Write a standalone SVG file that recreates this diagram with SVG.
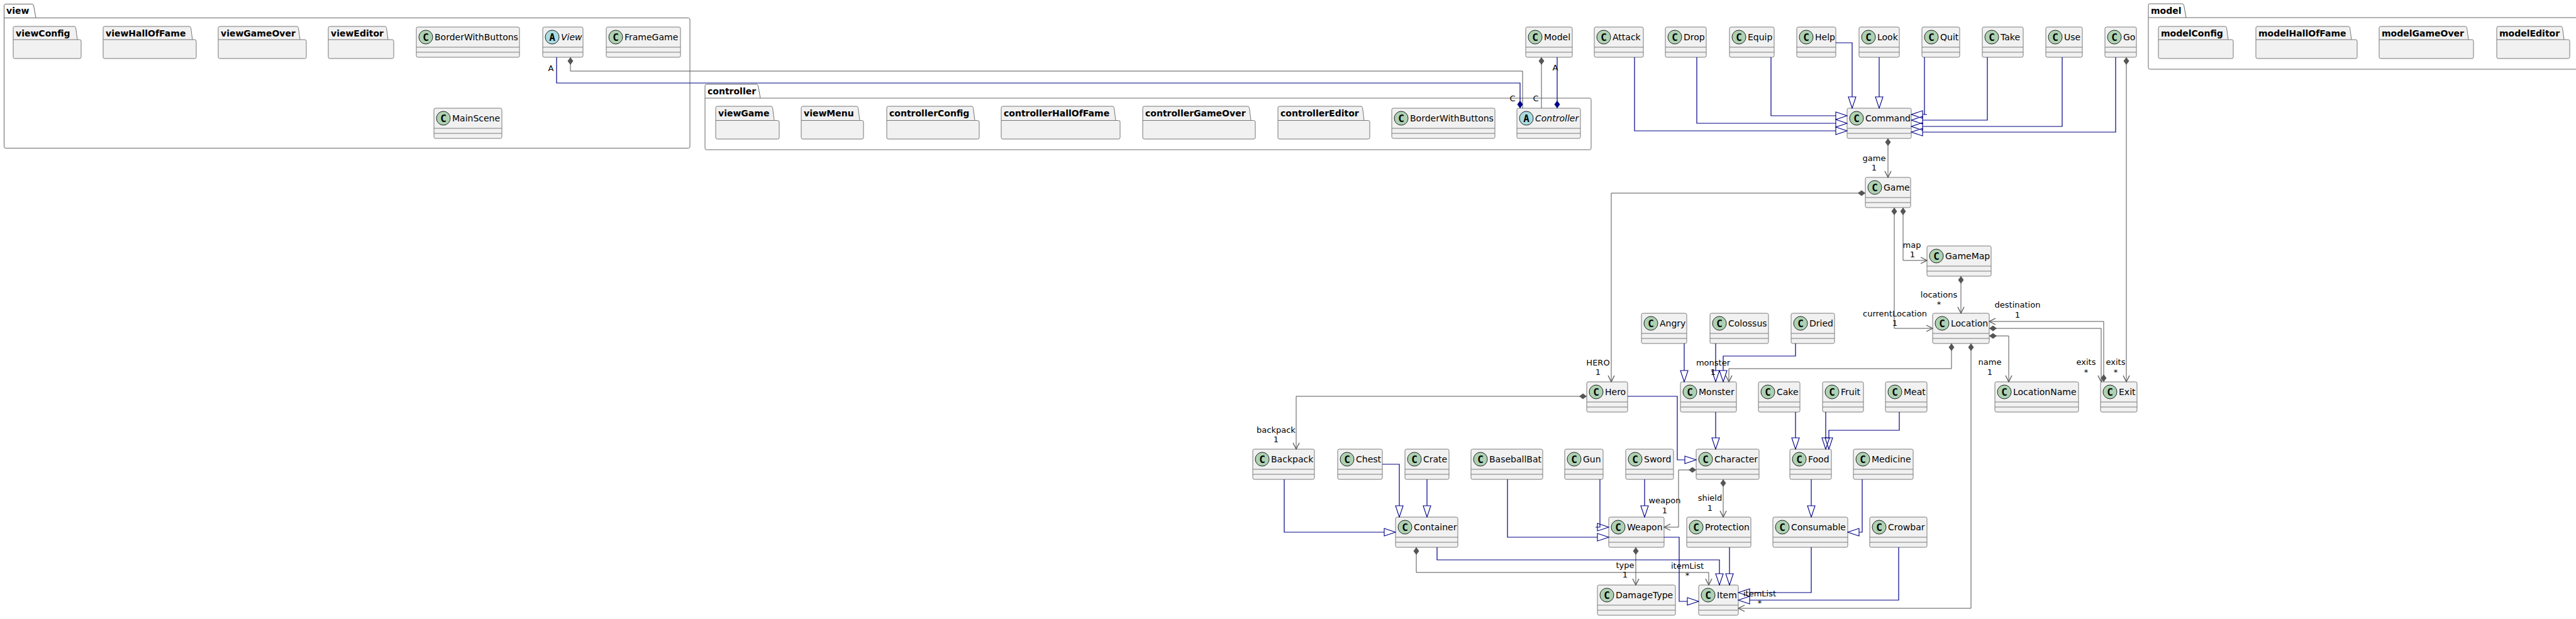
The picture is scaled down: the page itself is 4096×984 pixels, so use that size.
<svg xmlns="http://www.w3.org/2000/svg" width="4096" height="984" viewBox="0 0 4096 984">
<style>
.cls rect{fill:#F1F1F1;stroke:#7a7a7a;stroke-width:1}
.cls .sp{stroke:#7a7a7a;stroke-width:1;fill:none}
.cc{fill:#ADD1B2;stroke:#222;stroke-width:1}
.ca{fill:#A9DCDF;stroke:#222;stroke-width:1}
.lt{font-family:"DejaVu Sans Mono",monospace;font-weight:bold;font-size:16px;text-anchor:middle;fill:#000}
.nm{font-family:"DejaVu Sans",sans-serif;font-size:14px;fill:#000}
.it{font-style:italic}
.opk{fill:none;stroke:#666;stroke-width:1}
.ipk{fill:#F1F1F1;stroke:#777;stroke-width:1}
.pt{font-family:"DejaVu Sans",sans-serif;font-weight:bold;font-size:14px;fill:#000}
.g{fill:none;stroke:#555;stroke-width:1}
.b{fill:none;stroke:#000088;stroke-width:1.2}
.lb{font-family:"DejaVu Sans",sans-serif;font-size:13px;text-anchor:middle;fill:#000}
</style>
<defs>
<marker id="arr" markerUnits="userSpaceOnUse" markerWidth="12" markerHeight="12" viewBox="0 0 12 12" refX="11" refY="6" orient="auto"><path d="M1,1 L11,6 L1,11" fill="none" stroke="#555" stroke-width="1.3"/></marker>
<marker id="dia" markerUnits="userSpaceOnUse" markerWidth="14" markerHeight="10" viewBox="0 0 14 10" refX="0" refY="5" orient="auto"><path d="M0,5 L6,0.5 L12,5 L6,9.5 Z" fill="#555"/></marker>
<marker id="diaB" markerUnits="userSpaceOnUse" markerWidth="14" markerHeight="10" viewBox="0 0 14 10" refX="0" refY="5" orient="auto"><path d="M0,5 L6,0.5 L12,5 L6,9.5 Z" fill="#000088"/></marker>
<marker id="tri" markerUnits="userSpaceOnUse" markerWidth="20" markerHeight="14" viewBox="0 0 20 14" refX="1" refY="7" orient="auto"><path d="M1,1 L19,7 L1,13 Z" fill="none" stroke="#000088" stroke-width="1.1"/></marker>
</defs>
<rect width="4096" height="984" fill="#fff"/>

<g id="pkg-view">
<path class="opk" d="M6.5,28.5 V9 Q6.5,6.5 9,6.5 H51 Q53,6.5 53.5,9 L57,28.5 H1094.5 Q1097,28.5 1097,31 V233 Q1097,235.5 1094.5,235.5 H9 Q6.5,235.5 6.5,233 Z M6.5,28.5 H57"/>
<text class="pt" x="10" y="22">view</text>
<g id="pkg-viewConfig"><path class="ipk" d="M21,63 V44.5 Q21,42 23.5,42 H118 Q120,42 120.5,44.5 L123,63 H126.5 Q129,63 129,65.5 V90.5 Q129,93 126.5,93 H23.5 Q21,93 21,90.5 Z M21,63 H123"/><text class="pt" x="25" y="57.5">viewConfig</text></g>
<g id="pkg-viewHallOfFame"><path class="ipk" d="M164,63 V44.5 Q164,42 166.5,42 H301 Q303,42 303.5,44.5 L306,63 H309.5 Q312,63 312,65.5 V90.5 Q312,93 309.5,93 H166.5 Q164,93 164,90.5 Z M164,63 H306"/><text class="pt" x="168" y="57.5">viewHallOfFame</text></g>
<g id="pkg-viewGameOver"><path class="ipk" d="M347,63 V44.5 Q347,42 349.5,42 H472 Q474,42 474.5,44.5 L477,63 H484.5 Q487,63 487,65.5 V90.5 Q487,93 484.5,93 H349.5 Q347,93 347,90.5 Z M347,63 H477"/><text class="pt" x="351" y="57.5">viewGameOver</text></g>
<g id="pkg-viewEditor"><path class="ipk" d="M522,63 V44.5 Q522,42 524.5,42 H612 Q614,42 614.5,44.5 L617,63 H623.5 Q626,63 626,65.5 V90.5 Q626,93 623.5,93 H524.5 Q522,93 522,90.5 Z M522,63 H617"/><text class="pt" x="526" y="57.5">viewEditor</text></g>
<g id="cls-view-BorderWithButtons" class="cls" transform="translate(662,43)"><rect width="164" height="48" rx="2.5"/><circle class="cc" cx="15" cy="16" r="11"/><text class="lt" x="15" y="21.8">C</text><text class="nm" x="29" y="21.3">BorderWithButtons</text><path class="sp" d="M0,32H164M0,40H164"/></g>
<g id="cls-View" class="cls" transform="translate(863,43)"><rect width="64" height="48" rx="2.5"/><circle class="ca" cx="15" cy="16" r="11"/><text class="lt" x="15" y="21.8">A</text><text class="nm it" x="29" y="21.3">View</text><path class="sp" d="M0,32H64M0,40H64"/></g>
<g id="cls-FrameGame" class="cls" transform="translate(964,43)"><rect width="118" height="48" rx="2.5"/><circle class="cc" cx="15" cy="16" r="11"/><text class="lt" x="15" y="21.8">C</text><text class="nm" x="29" y="21.3">FrameGame</text><path class="sp" d="M0,32H118M0,40H118"/></g>
<g id="cls-MainScene" class="cls" transform="translate(690,172)"><rect width="108" height="48" rx="2.5"/><circle class="cc" cx="15" cy="16" r="11"/><text class="lt" x="15" y="21.8">C</text><text class="nm" x="29" y="21.3">MainScene</text><path class="sp" d="M0,32H108M0,40H108"/></g>
</g>

<g id="pkg-controller">
<path class="opk" d="M1121,156 V136.5 Q1121,134 1123.5,134 H1203 Q1205,134 1205.5,136.5 L1209,156 H2527.5 Q2530,156 2530,158.5 V235.5 Q2530,238 2527.5,238 H1123.5 Q1121,238 1121,235.5 Z M1121,156 H1209"/>
<text class="pt" x="1125" y="149.5">controller</text>
<g id="pkg-viewGame"><path class="ipk" d="M1138,191.5 V171.5 Q1138,169 1140.5,169 H1226 Q1228,169 1228.5,171.5 L1231,191.5 H1236.5 Q1239,191.5 1239,194 V218.5 Q1239,221 1236.5,221 H1140.5 Q1138,221 1138,218.5 Z M1138,191.5 H1231"/><text class="pt" x="1142" y="184.5">viewGame</text></g>
<g id="pkg-viewMenu"><path class="ipk" d="M1274,191.5 V171.5 Q1274,169 1276.5,169 H1362 Q1364,169 1364.5,171.5 L1367,191.5 H1370.5 Q1373,191.5 1373,194 V218.5 Q1373,221 1370.5,221 H1276.5 Q1274,221 1274,218.5 Z M1274,191.5 H1367"/><text class="pt" x="1278" y="184.5">viewMenu</text></g>
<g id="pkg-controllerConfig"><path class="ipk" d="M1410,191.5 V171.5 Q1410,169 1412.5,169 H1545 Q1547,169 1547.5,171.5 L1550,191.5 H1554.5 Q1557,191.5 1557,194 V218.5 Q1557,221 1554.5,221 H1412.5 Q1410,221 1410,218.5 Z M1410,191.5 H1550"/><text class="pt" x="1414" y="184.5">controllerConfig</text></g>
<g id="pkg-controllerHallOfFame"><path class="ipk" d="M1592,191.5 V171.5 Q1592,169 1594.5,169 H1769 Q1771,169 1771.5,171.5 L1774,191.5 H1778.5 Q1781,191.5 1781,194 V218.5 Q1781,221 1778.5,221 H1594.5 Q1592,221 1592,218.5 Z M1592,191.5 H1774"/><text class="pt" x="1596" y="184.5">controllerHallOfFame</text></g>
<g id="pkg-controllerGameOver"><path class="ipk" d="M1817,191.5 V171.5 Q1817,169 1819.5,169 H1984 Q1986,169 1986.5,171.5 L1989,191.5 H1993.5 Q1996,191.5 1996,194 V218.5 Q1996,221 1993.5,221 H1819.5 Q1817,221 1817,218.5 Z M1817,191.5 H1989"/><text class="pt" x="1821" y="184.5">controllerGameOver</text></g>
<g id="pkg-controllerEditor"><path class="ipk" d="M2032,191.5 V171.5 Q2032,169 2034.5,169 H2164 Q2166,169 2166.5,171.5 L2169,191.5 H2175.5 Q2178,191.5 2178,194 V218.5 Q2178,221 2175.5,221 H2034.5 Q2032,221 2032,218.5 Z M2032,191.5 H2169"/><text class="pt" x="2036" y="184.5">controllerEditor</text></g>
<g id="cls-controller-BorderWithButtons" class="cls" transform="translate(2213,172)"><rect width="164" height="48" rx="2.5"/><circle class="cc" cx="15" cy="16" r="11"/><text class="lt" x="15" y="21.8">C</text><text class="nm" x="29" y="21.3">BorderWithButtons</text><path class="sp" d="M0,32H164M0,40H164"/></g>
<g id="cls-Controller" class="cls" transform="translate(2412,172)"><rect width="101" height="48" rx="2.5"/><circle class="ca" cx="15" cy="16" r="11"/><text class="lt" x="15" y="21.8">A</text><text class="nm it" x="29" y="21.3">Controller</text><path class="sp" d="M0,32H101M0,40H101"/></g>
</g>

<g id="pkg-model">
<path class="opk" d="M3416,28 V8.5 Q3416,6 3418.5,6 H3470 Q3472,6 3472.5,8.5 L3476,28 H4110 V110 H3418.5 Q3416,110 3416,107.5 Z M3416,28 H3476"/>
<text class="pt" x="3420" y="21.5">model</text>
<g id="pkg-modelConfig"><path class="ipk" d="M3432,63 V44.5 Q3432,42 3434.5,42 H3538 Q3540,42 3540.5,44.5 L3543,63 H3548.5 Q3551,63 3551,65.5 V90.5 Q3551,93 3548.5,93 H3434.5 Q3432,93 3432,90.5 Z M3432,63 H3543"/><text class="pt" x="3436" y="57.5">modelConfig</text></g>
<g id="pkg-modelHallOfFame"><path class="ipk" d="M3587,63 V44.5 Q3587,42 3589.5,42 H3734 Q3736,42 3736.5,44.5 L3739,63 H3745.5 Q3748,63 3748,65.5 V90.5 Q3748,93 3745.5,93 H3589.5 Q3587,93 3587,90.5 Z M3587,63 H3739"/><text class="pt" x="3591" y="57.5">modelHallOfFame</text></g>
<g id="pkg-modelGameOver"><path class="ipk" d="M3783,63 V44.5 Q3783,42 3785.5,42 H3920 Q3922,42 3922.5,44.5 L3925,63 H3930.5 Q3933,63 3933,65.5 V90.5 Q3933,93 3930.5,93 H3785.5 Q3783,93 3783,90.5 Z M3783,63 H3925"/><text class="pt" x="3787" y="57.5">modelGameOver</text></g>
<g id="pkg-modelEditor"><path class="ipk" d="M3970,63 V44.5 Q3970,42 3972.5,42 H4072 Q4074,42 4074.5,44.5 L4077,63 H4083.5 Q4086,63 4086,65.5 V90.5 Q4086,93 4083.5,93 H3972.5 Q3970,93 3970,90.5 Z M3970,63 H4077"/><text class="pt" x="3974" y="57.5">modelEditor</text></g>
</g>

<g id="cls-Model" class="cls" transform="translate(2426,43)"><rect width="74" height="48" rx="2.5"/><circle class="cc" cx="15" cy="16" r="11"/><text class="lt" x="15" y="21.8">C</text><text class="nm" x="29" y="21.3">Model</text><path class="sp" d="M0,32H74M0,40H74"/></g>
<g id="cls-Attack" class="cls" transform="translate(2535,43)"><rect width="78" height="48" rx="2.5"/><circle class="cc" cx="15" cy="16" r="11"/><text class="lt" x="15" y="21.8">C</text><text class="nm" x="29" y="21.3">Attack</text><path class="sp" d="M0,32H78M0,40H78"/></g>
<g id="cls-Drop" class="cls" transform="translate(2648,43)"><rect width="65" height="48" rx="2.5"/><circle class="cc" cx="15" cy="16" r="11"/><text class="lt" x="15" y="21.8">C</text><text class="nm" x="29" y="21.3">Drop</text><path class="sp" d="M0,32H65M0,40H65"/></g>
<g id="cls-Equip" class="cls" transform="translate(2750,43)"><rect width="71" height="48" rx="2.5"/><circle class="cc" cx="15" cy="16" r="11"/><text class="lt" x="15" y="21.8">C</text><text class="nm" x="29" y="21.3">Equip</text><path class="sp" d="M0,32H71M0,40H71"/></g>
<g id="cls-Help" class="cls" transform="translate(2857,43)"><rect width="62" height="48" rx="2.5"/><circle class="cc" cx="15" cy="16" r="11"/><text class="lt" x="15" y="21.8">C</text><text class="nm" x="29" y="21.3">Help</text><path class="sp" d="M0,32H62M0,40H62"/></g>
<g id="cls-Look" class="cls" transform="translate(2956,43)"><rect width="64" height="48" rx="2.5"/><circle class="cc" cx="15" cy="16" r="11"/><text class="lt" x="15" y="21.8">C</text><text class="nm" x="29" y="21.3">Look</text><path class="sp" d="M0,32H64M0,40H64"/></g>
<g id="cls-Quit" class="cls" transform="translate(3056,43)"><rect width="60" height="48" rx="2.5"/><circle class="cc" cx="15" cy="16" r="11"/><text class="lt" x="15" y="21.8">C</text><text class="nm" x="29" y="21.3">Quit</text><path class="sp" d="M0,32H60M0,40H60"/></g>
<g id="cls-Take" class="cls" transform="translate(3152,43)"><rect width="65" height="48" rx="2.5"/><circle class="cc" cx="15" cy="16" r="11"/><text class="lt" x="15" y="21.8">C</text><text class="nm" x="29" y="21.3">Take</text><path class="sp" d="M0,32H65M0,40H65"/></g>
<g id="cls-Use" class="cls" transform="translate(3253,43)"><rect width="58" height="48" rx="2.5"/><circle class="cc" cx="15" cy="16" r="11"/><text class="lt" x="15" y="21.8">C</text><text class="nm" x="29" y="21.3">Use</text><path class="sp" d="M0,32H58M0,40H58"/></g>
<g id="cls-Go" class="cls" transform="translate(3347,43)"><rect width="50" height="48" rx="2.5"/><circle class="cc" cx="15" cy="16" r="11"/><text class="lt" x="15" y="21.8">C</text><text class="nm" x="29" y="21.3">Go</text><path class="sp" d="M0,32H50M0,40H50"/></g>
<g id="cls-Command" class="cls" transform="translate(2937,172)"><rect width="102" height="48" rx="2.5"/><circle class="cc" cx="15" cy="16" r="11"/><text class="lt" x="15" y="21.8">C</text><text class="nm" x="29" y="21.3">Command</text><path class="sp" d="M0,32H102M0,40H102"/></g>
<g id="cls-Game" class="cls" transform="translate(2966,282)"><rect width="72" height="48" rx="2.5"/><circle class="cc" cx="15" cy="16" r="11"/><text class="lt" x="15" y="21.8">C</text><text class="nm" x="29" y="21.3">Game</text><path class="sp" d="M0,32H72M0,40H72"/></g>
<g id="cls-GameMap" class="cls" transform="translate(3064,391)"><rect width="102" height="48" rx="2.5"/><circle class="cc" cx="15" cy="16" r="11"/><text class="lt" x="15" y="21.8">C</text><text class="nm" x="29" y="21.3">GameMap</text><path class="sp" d="M0,32H102M0,40H102"/></g>
<g id="cls-Location" class="cls" transform="translate(3073,498)"><rect width="90" height="48" rx="2.5"/><circle class="cc" cx="15" cy="16" r="11"/><text class="lt" x="15" y="21.8">C</text><text class="nm" x="29" y="21.3">Location</text><path class="sp" d="M0,32H90M0,40H90"/></g>
<g id="cls-Angry" class="cls" transform="translate(2610,498)"><rect width="72" height="48" rx="2.5"/><circle class="cc" cx="15" cy="16" r="11"/><text class="lt" x="15" y="21.8">C</text><text class="nm" x="29" y="21.3">Angry</text><path class="sp" d="M0,32H72M0,40H72"/></g>
<g id="cls-Colossus" class="cls" transform="translate(2719,498)"><rect width="93" height="48" rx="2.5"/><circle class="cc" cx="15" cy="16" r="11"/><text class="lt" x="15" y="21.8">C</text><text class="nm" x="29" y="21.3">Colossus</text><path class="sp" d="M0,32H93M0,40H93"/></g>
<g id="cls-Dried" class="cls" transform="translate(2848,498)"><rect width="69" height="48" rx="2.5"/><circle class="cc" cx="15" cy="16" r="11"/><text class="lt" x="15" y="21.8">C</text><text class="nm" x="29" y="21.3">Dried</text><path class="sp" d="M0,32H69M0,40H69"/></g>
<g id="cls-Hero" class="cls" transform="translate(2523,607)"><rect width="65" height="48" rx="2.5"/><circle class="cc" cx="15" cy="16" r="11"/><text class="lt" x="15" y="21.8">C</text><text class="nm" x="29" y="21.3">Hero</text><path class="sp" d="M0,32H65M0,40H65"/></g>
<g id="cls-Monster" class="cls" transform="translate(2672,607)"><rect width="89" height="48" rx="2.5"/><circle class="cc" cx="15" cy="16" r="11"/><text class="lt" x="15" y="21.8">C</text><text class="nm" x="29" y="21.3">Monster</text><path class="sp" d="M0,32H89M0,40H89"/></g>
<g id="cls-Cake" class="cls" transform="translate(2796,607)"><rect width="66" height="48" rx="2.5"/><circle class="cc" cx="15" cy="16" r="11"/><text class="lt" x="15" y="21.8">C</text><text class="nm" x="29" y="21.3">Cake</text><path class="sp" d="M0,32H66M0,40H66"/></g>
<g id="cls-Fruit" class="cls" transform="translate(2898,607)"><rect width="65" height="48" rx="2.5"/><circle class="cc" cx="15" cy="16" r="11"/><text class="lt" x="15" y="21.8">C</text><text class="nm" x="29" y="21.3">Fruit</text><path class="sp" d="M0,32H65M0,40H65"/></g>
<g id="cls-Meat" class="cls" transform="translate(2998,607)"><rect width="66" height="48" rx="2.5"/><circle class="cc" cx="15" cy="16" r="11"/><text class="lt" x="15" y="21.8">C</text><text class="nm" x="29" y="21.3">Meat</text><path class="sp" d="M0,32H66M0,40H66"/></g>
<g id="cls-LocationName" class="cls" transform="translate(3172,607)"><rect width="133" height="48" rx="2.5"/><circle class="cc" cx="15" cy="16" r="11"/><text class="lt" x="15" y="21.8">C</text><text class="nm" x="29" y="21.3">LocationName</text><path class="sp" d="M0,32H133M0,40H133"/></g>
<g id="cls-Exit" class="cls" transform="translate(3340,607)"><rect width="58" height="48" rx="2.5"/><circle class="cc" cx="15" cy="16" r="11"/><text class="lt" x="15" y="21.8">C</text><text class="nm" x="29" y="21.3">Exit</text><path class="sp" d="M0,32H58M0,40H58"/></g>
<g id="cls-Backpack" class="cls" transform="translate(1992,714)"><rect width="98" height="48" rx="2.5"/><circle class="cc" cx="15" cy="16" r="11"/><text class="lt" x="15" y="21.8">C</text><text class="nm" x="29" y="21.3">Backpack</text><path class="sp" d="M0,32H98M0,40H98"/></g>
<g id="cls-Chest" class="cls" transform="translate(2127,714)"><rect width="71" height="48" rx="2.5"/><circle class="cc" cx="15" cy="16" r="11"/><text class="lt" x="15" y="21.8">C</text><text class="nm" x="29" y="21.3">Chest</text><path class="sp" d="M0,32H71M0,40H71"/></g>
<g id="cls-Crate" class="cls" transform="translate(2234,714)"><rect width="70" height="48" rx="2.5"/><circle class="cc" cx="15" cy="16" r="11"/><text class="lt" x="15" y="21.8">C</text><text class="nm" x="29" y="21.3">Crate</text><path class="sp" d="M0,32H70M0,40H70"/></g>
<g id="cls-BaseballBat" class="cls" transform="translate(2339,714)"><rect width="114" height="48" rx="2.5"/><circle class="cc" cx="15" cy="16" r="11"/><text class="lt" x="15" y="21.8">C</text><text class="nm" x="29" y="21.3">BaseballBat</text><path class="sp" d="M0,32H114M0,40H114"/></g>
<g id="cls-Gun" class="cls" transform="translate(2488,714)"><rect width="61" height="48" rx="2.5"/><circle class="cc" cx="15" cy="16" r="11"/><text class="lt" x="15" y="21.8">C</text><text class="nm" x="29" y="21.3">Gun</text><path class="sp" d="M0,32H61M0,40H61"/></g>
<g id="cls-Sword" class="cls" transform="translate(2585,714)"><rect width="76" height="48" rx="2.5"/><circle class="cc" cx="15" cy="16" r="11"/><text class="lt" x="15" y="21.8">C</text><text class="nm" x="29" y="21.3">Sword</text><path class="sp" d="M0,32H76M0,40H76"/></g>
<g id="cls-Character" class="cls" transform="translate(2697,714)"><rect width="100" height="48" rx="2.5"/><circle class="cc" cx="15" cy="16" r="11"/><text class="lt" x="15" y="21.8">C</text><text class="nm" x="29" y="21.3">Character</text><path class="sp" d="M0,32H100M0,40H100"/></g>
<g id="cls-Food" class="cls" transform="translate(2846,714)"><rect width="66" height="48" rx="2.5"/><circle class="cc" cx="15" cy="16" r="11"/><text class="lt" x="15" y="21.8">C</text><text class="nm" x="29" y="21.3">Food</text><path class="sp" d="M0,32H66M0,40H66"/></g>
<g id="cls-Medicine" class="cls" transform="translate(2947,714)"><rect width="95" height="48" rx="2.5"/><circle class="cc" cx="15" cy="16" r="11"/><text class="lt" x="15" y="21.8">C</text><text class="nm" x="29" y="21.3">Medicine</text><path class="sp" d="M0,32H95M0,40H95"/></g>
<g id="cls-Container" class="cls" transform="translate(2219,822)"><rect width="99" height="48" rx="2.5"/><circle class="cc" cx="15" cy="16" r="11"/><text class="lt" x="15" y="21.8">C</text><text class="nm" x="29" y="21.3">Container</text><path class="sp" d="M0,32H99M0,40H99"/></g>
<g id="cls-Weapon" class="cls" transform="translate(2558,822)"><rect width="88" height="48" rx="2.5"/><circle class="cc" cx="15" cy="16" r="11"/><text class="lt" x="15" y="21.8">C</text><text class="nm" x="29" y="21.3">Weapon</text><path class="sp" d="M0,32H88M0,40H88"/></g>
<g id="cls-Protection" class="cls" transform="translate(2682,822)"><rect width="102" height="48" rx="2.5"/><circle class="cc" cx="15" cy="16" r="11"/><text class="lt" x="15" y="21.8">C</text><text class="nm" x="29" y="21.3">Protection</text><path class="sp" d="M0,32H102M0,40H102"/></g>
<g id="cls-Consumable" class="cls" transform="translate(2819,822)"><rect width="119" height="48" rx="2.5"/><circle class="cc" cx="15" cy="16" r="11"/><text class="lt" x="15" y="21.8">C</text><text class="nm" x="29" y="21.3">Consumable</text><path class="sp" d="M0,32H119M0,40H119"/></g>
<g id="cls-Crowbar" class="cls" transform="translate(2973,822)"><rect width="91" height="48" rx="2.5"/><circle class="cc" cx="15" cy="16" r="11"/><text class="lt" x="15" y="21.8">C</text><text class="nm" x="29" y="21.3">Crowbar</text><path class="sp" d="M0,32H91M0,40H91"/></g>
<g id="cls-DamageType" class="cls" transform="translate(2540,930)"><rect width="124" height="48" rx="2.5"/><circle class="cc" cx="15" cy="16" r="11"/><text class="lt" x="15" y="21.8">C</text><text class="nm" x="29" y="21.3">DamageType</text><path class="sp" d="M0,32H124M0,40H124"/></g>
<g id="cls-Item" class="cls" transform="translate(2701,930)"><rect width="63" height="48" rx="2.5"/><circle class="cc" cx="15" cy="16" r="11"/><text class="lt" x="15" y="21.8">C</text><text class="nm" x="29" y="21.3">Item</text><path class="sp" d="M0,32H63M0,40H63"/></g>

<g id="connectors">
<!-- composition / association (gray) -->
<path class="g" marker-start="url(#dia)" d="M907,91 V113 H2421 V172"/>
<path class="g" marker-start="url(#dia)" d="M2451,91 V172"/>
<path class="g" marker-start="url(#dia)" marker-end="url(#arr)" d="M3002,220 V282"/>
<path class="g" marker-start="url(#dia)" marker-end="url(#arr)" d="M2966,307 H2562 V607"/>
<path class="g" marker-start="url(#dia)" marker-end="url(#arr)" d="M3026,330 V414 H3064"/>
<path class="g" marker-start="url(#dia)" marker-end="url(#arr)" d="M3012,330 V522 H3073"/>
<path class="g" marker-start="url(#dia)" marker-end="url(#arr)" d="M3118,439 V498"/>
<path class="g" marker-start="url(#dia)" marker-end="url(#arr)" d="M3103,546 V586 H2749 V607"/>
<path class="g" marker-start="url(#dia)" marker-end="url(#arr)" d="M3134,546 V967 H2764"/>
<path class="g" marker-start="url(#dia)" marker-end="url(#arr)" d="M3163,534 H3194 V607"/>
<path class="g" marker-start="url(#dia)" marker-end="url(#arr)" d="M3163,522 H3341 V607"/>
<path class="g" marker-start="url(#dia)" marker-end="url(#arr)" d="M3345,607 V511 H3163"/>
<path class="g" marker-start="url(#dia)" marker-end="url(#arr)" d="M3381,91 V607"/>
<path class="g" marker-start="url(#dia)" marker-end="url(#arr)" d="M2523,630 H2061 V714"/>
<path class="g" marker-start="url(#dia)" marker-end="url(#arr)" d="M2697,747 H2669 V838 H2646"/>
<path class="g" marker-start="url(#dia)" marker-end="url(#arr)" d="M2740,762 V822"/>
<path class="g" marker-start="url(#dia)" marker-end="url(#arr)" d="M2601,870 V930"/>
<path class="g" marker-start="url(#dia)" marker-end="url(#arr)" d="M2252,870 V910 H2717 V930"/>
<!-- blue composition -->
<path class="b" marker-start="url(#diaB)" d="M2417,172 V132 H885 V91"/>
<path class="b" marker-start="url(#diaB)" d="M2476,172 V91"/>
<!-- extension (blue) -->
<path class="b" marker-end="url(#tri)" d="M2599,91 V208 H2919"/>
<path class="b" marker-end="url(#tri)" d="M2698,91 V196 H2919"/>
<path class="b" marker-end="url(#tri)" d="M2816,91 V184 H2919"/>
<path class="b" marker-end="url(#tri)" d="M2919,68 H2945 V154"/>
<path class="b" marker-end="url(#tri)" d="M2988,91 V154"/>
<path class="b" marker-end="url(#tri)" d="M3060,91 V182 H3064 H3057"/>
<path class="b" marker-end="url(#tri)" d="M3160,91 V191 H3057"/>
<path class="b" marker-end="url(#tri)" d="M3279,91 V201 H3057"/>
<path class="b" marker-end="url(#tri)" d="M3364,91 V210 H3057"/>
<path class="b" marker-end="url(#tri)" d="M2678,546 V589"/>
<path class="b" marker-end="url(#tri)" d="M2728,546 V589"/>
<path class="b" marker-end="url(#tri)" d="M2855,546 V566 H2740 V589"/>
<path class="b" marker-end="url(#tri)" d="M2588,630 H2667 V731 H2679"/>
<path class="b" marker-end="url(#tri)" d="M2728,655 V696"/>
<path class="b" marker-end="url(#tri)" d="M2855,655 V696"/>
<path class="b" marker-end="url(#tri)" d="M2903,655 V696"/>
<path class="b" marker-end="url(#tri)" d="M3020,655 V684 H2908 V696"/>
<path class="b" marker-end="url(#tri)" d="M2042,762 V846 H2201"/>
<path class="b" marker-end="url(#tri)" d="M2198,738 H2225 V804"/>
<path class="b" marker-end="url(#tri)" d="M2269,762 V804"/>
<path class="b" marker-end="url(#tri)" d="M2397,762 V854 H2540"/>
<path class="b" marker-end="url(#tri)" d="M2544,762 V838 H2537 H2540"/>
<path class="b" marker-end="url(#tri)" d="M2615,762 V804"/>
<path class="b" marker-end="url(#tri)" d="M2646,854 H2670 V956 H2683"/>
<path class="b" marker-end="url(#tri)" d="M2285,870 V890 H2734 V912"/>
<path class="b" marker-end="url(#tri)" d="M2750,870 V912"/>
<path class="b" marker-end="url(#tri)" d="M2880,762 V804"/>
<path class="b" marker-end="url(#tri)" d="M2961,762 V846 H2956"/>
<path class="b" marker-end="url(#tri)" d="M2880,870 V942 H2782"/>
<path class="b" marker-end="url(#tri)" d="M3019,870 V954 H2782"/>
<!-- labels -->
<text class="lb" x="876" y="113">A</text>
<text class="lb" x="2473" y="112">A</text>
<text class="lb" x="2405" y="161">C</text>
<text class="lb" x="2442" y="161">C</text>
<text class="lb" x="2980" y="256">game</text><text class="lb" x="2980" y="271">1</text>
<text class="lb" x="2541" y="581">HERO</text><text class="lb" x="2541" y="596">1</text>
<text class="lb" x="3040" y="394">map</text><text class="lb" x="3041" y="409">1</text>
<text class="lb" x="3013" y="503">currentLocation</text><text class="lb" x="3013" y="518">1</text>
<text class="lb" x="3083" y="473">locations</text><text class="lb" x="3083" y="488">*</text>
<text class="lb" x="2724" y="581">monster</text><text class="lb" x="2724" y="596">1</text>
<text class="lb" x="2798" y="948">itemList</text><text class="lb" x="2798" y="963">*</text>
<text class="lb" x="3164" y="580">name</text><text class="lb" x="3164" y="596">1</text>
<text class="lb" x="3317" y="580">exits</text><text class="lb" x="3317" y="596">*</text>
<text class="lb" x="3208" y="489">destination</text><text class="lb" x="3208" y="505">1</text>
<text class="lb" x="3364" y="580">exits</text><text class="lb" x="3364" y="596">*</text>
<text class="lb" x="2029" y="688">backpack</text><text class="lb" x="2029" y="703">1</text>
<text class="lb" x="2647" y="800">weapon</text><text class="lb" x="2647" y="816">1</text>
<text class="lb" x="2719" y="796">shield</text><text class="lb" x="2719" y="812">1</text>
<text class="lb" x="2584" y="903">type</text><text class="lb" x="2584" y="918">1</text>
<text class="lb" x="2683" y="904">itemList</text><text class="lb" x="2683" y="919">*</text>
</g>
</svg>
